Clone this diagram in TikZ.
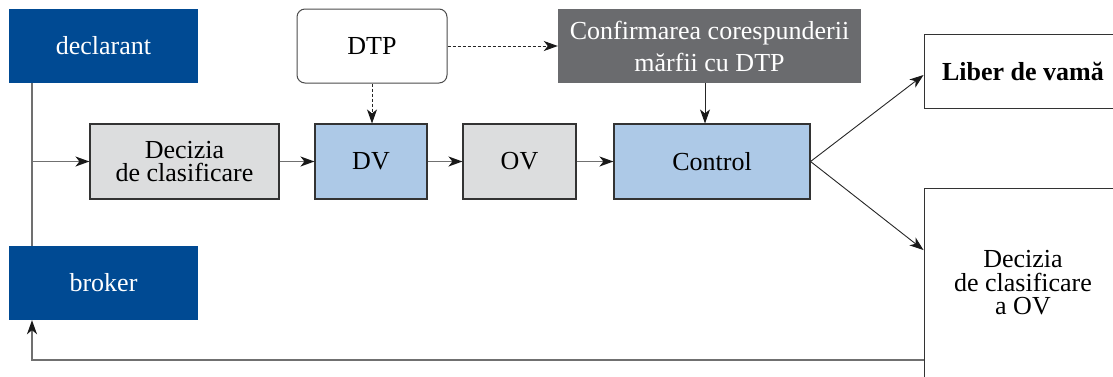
\documentclass[tikz,border=0pt]{standalone}
\usepackage{fontspec}
\setmainfont{Liberation Serif}
\usetikzlibrary{arrows.meta}
\definecolor{dblue}{HTML}{004A93}
\definecolor{lblue}{HTML}{ADC9E7}
\definecolor{lgray}{HTML}{DCDDDE}
\definecolor{dgray}{HTML}{6A6B6E}
\definecolor{lnc}{HTML}{707070}
\definecolor{bord}{HTML}{333333}
\tikzset{
  base/.style={inner sep=0pt, align=center, font=\fontsize{26}{23.5}\selectfont},
  bluebox/.style={base, fill=dblue, text=white},
  graybox/.style={base, fill=lgray, draw=bord, line width=1.1pt},
  lbbox/.style={base, fill=lblue, draw=bord, line width=1.1pt},
  whitebox/.style={base, fill=white, draw=bord, line width=1pt},
  darkbox/.style={base, fill=dgray, text=white, font=\fontsize{26}{32}\selectfont},
  flow/.style={draw=lnc, line width=1.4pt},
  tip/.style={-{Stealth[length=14pt,width=10pt,inset=4pt,color=black!90]}},
  arr/.style={flow, tip},
  thinarr/.style={draw=black!85, line width=0.9pt, tip},
  dasharr/.style={draw=black!85, line width=1pt, dash pattern=on 3pt off 2pt, tip},
}
\begin{document}
\begin{tikzpicture}[x=1pt,y=-1pt]
\useasboundingbox (0,0) rectangle (1113,376);
\clip (0,0) rectangle (1113,376);
\node[bluebox, minimum width=189pt, minimum height=74pt] (decl) at (103.5,46) {declarant};
\node[bluebox, minimum width=189pt, minimum height=74pt] (brok) at (103.5,283) {broker};
\node[whitebox, draw=black!70, rounded corners=8pt, minimum width=150pt, minimum height=74pt] (dtp) at (372,46) {DTP};
\node[darkbox, minimum width=303pt, minimum height=74pt] (conf) at (709.5,46) {Confirmarea corespunderii\\mărfii cu DTP};
\node[graybox, minimum width=189pt, minimum height=75pt] (dec) at (184.5,161.5) {Decizia\\de clasificare};
\node[lbbox, minimum width=112pt, minimum height=75pt] (dv) at (371,161.5) {DV};
\node[graybox, minimum width=113pt, minimum height=75pt] (ov) at (519.5,161.5) {OV};
\node[lbbox, minimum width=196pt, minimum height=75pt] (ctrl) at (712,161.5) {Control};
\node[whitebox, minimum width=198pt, minimum height=74pt, font=\fontsize{26}{23}\selectfont\bfseries] (lib) at (1023,71) {Liber de vamă};
\node[whitebox, minimum width=198pt, minimum height=190pt] (decov) at (1023,283) {Decizia\\de clasificare\\a OV};
\coordinate (j) at (32,161.5);
\draw[flow] (decl.south -| j) -- (brok.north -| j);
\draw[arr] (j) -- (dec.west);
\draw[arr] (dec.east) -- (dv.west);
\draw[arr] (dv.east) -- (ov.west);
\draw[arr] (ov.east) -- (ctrl.west);
\draw[dasharr] (dtp.east) -- (conf.west);
\draw[dasharr] (dtp.south) -- (dtp.south |- dv.north);
\draw[thinarr] ([xshift=-4.5pt]conf.south) -- ([xshift=-4.5pt]conf.south |- ctrl.north);
\draw[thinarr] (ctrl.east) -- ([yshift=-4pt]lib.west);
\draw[thinarr] (ctrl.east) -- ([yshift=33pt]decov.west);
\draw[arr] ([yshift=-77pt]decov.west) -| (brok.south -| j);
\end{tikzpicture}
\end{document}
